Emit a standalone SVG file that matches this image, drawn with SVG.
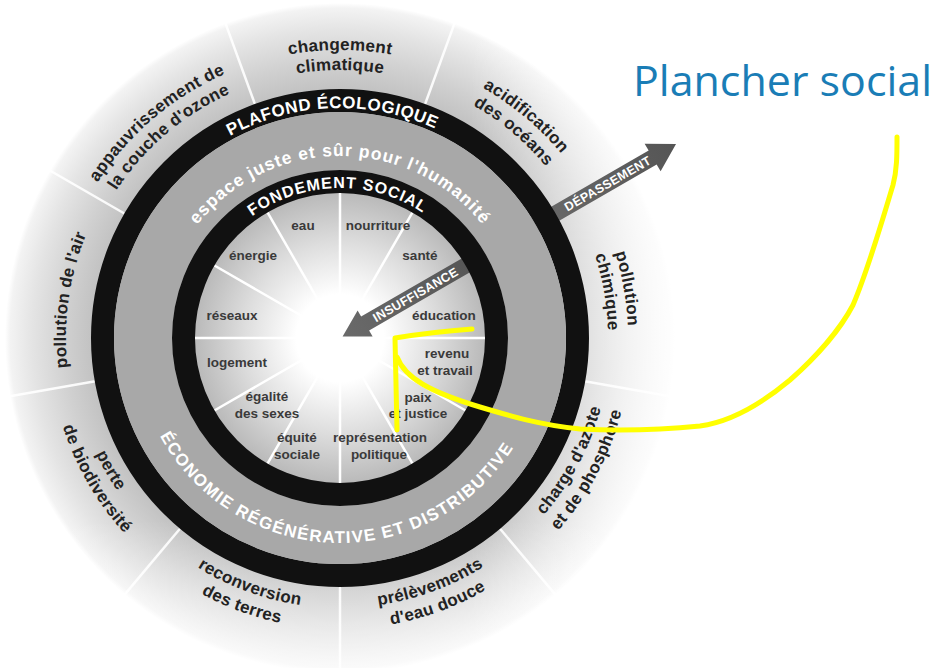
<svg xmlns="http://www.w3.org/2000/svg" xmlns:xlink="http://www.w3.org/1999/xlink" width="939" height="668" viewBox="0 0 939 668">
<defs>
<radialGradient id="outerG" gradientUnits="userSpaceOnUse" cx="340" cy="338" r="335">
<stop offset="0.73" stop-color="#c0c0c0"/>
<stop offset="0.82" stop-color="#d0d0d0"/>
<stop offset="0.92" stop-color="#e4e4e4"/>
<stop offset="0.985" stop-color="#f3f3f3"/>
<stop offset="1" stop-color="#ffffff"/>
</radialGradient>
<linearGradient id="fadeR" gradientUnits="userSpaceOnUse" x1="470" y1="0" x2="690" y2="0">
<stop offset="0" stop-color="#fff" stop-opacity="0"/>
<stop offset="1" stop-color="#fff" stop-opacity="0.95"/>
</linearGradient>
<linearGradient id="fadeB" gradientUnits="userSpaceOnUse" x1="0" y1="520" x2="0" y2="668">
<stop offset="0" stop-color="#fff" stop-opacity="0"/>
<stop offset="1" stop-color="#fff" stop-opacity="0.6"/>
</linearGradient>
<radialGradient id="innerG" gradientUnits="userSpaceOnUse" cx="340" cy="338" r="146">
<stop offset="0" stop-color="#ffffff"/>
<stop offset="0.3" stop-color="#ffffff"/>
<stop offset="0.65" stop-color="#dedede"/>
<stop offset="1" stop-color="#b9b9b9"/>
</radialGradient>
<linearGradient id="arrG" x1="0" y1="0" x2="1" y2="0">
<stop offset="0" stop-color="#6a6a6a"/>
<stop offset="1" stop-color="#555555"/>
</linearGradient>
<path id="cw288" d="M340,626 A288,288 0 1 1 340,50 A288,288 0 1 1 340,626"/>
<path id="cw268" d="M340,606 A268,268 0 1 1 340,70 A268,268 0 1 1 340,606"/>
<path id="cw274" d="M340,612 A274,274 0 1 1 340,64 A274,274 0 1 1 340,612"/>
<path id="cw230" d="M340,568 A230,230 0 1 1 340,108 A230,230 0 1 1 340,568"/>
<path id="cw150" d="M340,488 A150,150 0 1 1 340,188 A150,150 0 1 1 340,488"/>
<path id="cw182" d="M340,520 A182,182 0 1 1 340,156 A182,182 0 1 1 340,520"/>
<path id="ccw270" d="M340,68 A270,270 0 1 0 340,608 A270,270 0 1 0 340,68"/>
<path id="ccw291" d="M340,47 A291,291 0 1 0 340,629 A291,291 0 1 0 340,47"/>
<path id="ccw205" d="M340,133 A205,205 0 1 0 340,543 A205,205 0 1 0 340,133"/>
<style>
.olab{font-family:"Liberation Sans",Arial,sans-serif;font-weight:bold;font-size:17px;fill:#222;letter-spacing:0.3px}
.ilab{font-family:"Liberation Sans",Arial,sans-serif;font-weight:bold;font-size:13.5px;fill:#3a3a3a;text-anchor:middle}
.ring{font-family:"Liberation Sans",Arial,sans-serif;font-weight:bold;fill:#fff}
.div{stroke:#fff;stroke-width:2.5;stroke-linecap:round}
.arrtxt{font-family:"Liberation Sans",Arial,sans-serif;font-weight:bold;font-size:12.5px;fill:#fff;text-anchor:middle;letter-spacing:0.3px}
</style>
</defs>
<rect width="939" height="668" fill="#fff"/>
<g id="outer-zone">
<circle cx="340" cy="338" r="335" fill="url(#outerG)"/>
<g class="div" stroke-opacity="0.9">
<line x1="425.5" y1="103" x2="454.6" y2="23.1"/>
<line x1="556.5" y1="213" x2="630.1" y2="170.5"/>
<line x1="586.2" y1="381.5" x2="670" y2="396.3"/>
<line x1="500.7" y1="529.5" x2="555.4" y2="594.6"/>
<line x1="340" y1="588" x2="340" y2="668"/>
<line x1="179.3" y1="529.5" x2="124.6" y2="594.6"/>
<line x1="93.8" y1="381.5" x2="10" y2="396.3"/>
<line x1="123.5" y1="213" x2="49.9" y2="170.5"/>
<line x1="254.5" y1="103" x2="225.4" y2="23.1"/>
</g>
<rect x="460" y="0" width="240" height="668" fill="url(#fadeR)"/>
<rect x="0" y="520" width="700" height="148" fill="url(#fadeB)"/>
</g>
<g id="connectors">
<g id="arrow-depassement" transform="translate(340,338) rotate(-30)">
<polygon points="225,-8 361,-8 361,-16 388,0 361,16 361,8 225,8" fill="url(#arrG)"/>
<text class="arrtxt" x="309" y="4.5">DÉPASSEMENT</text>
</g>
</g>
<g id="plafond-ecologique">
<circle cx="340" cy="338" r="237.5" fill="none" stroke="#111" stroke-width="23"/>
</g>
<g id="espace-juste">
<circle cx="340" cy="338" r="197" fill="none" stroke="#a8a8a8" stroke-width="58"/>
</g>
<g id="inner-zone">
<circle cx="340" cy="338" r="146" fill="url(#innerG)"/>
<g class="div">
<line x1="340" y1="193" x2="340" y2="483"/>
<line x1="412.5" y1="212.4" x2="267.5" y2="463.6"/>
<line x1="465.6" y1="265.5" x2="214.4" y2="410.5"/>
<line x1="485" y1="338" x2="195" y2="338"/>
<line x1="465.6" y1="410.5" x2="214.4" y2="265.5"/>
<line x1="412.5" y1="463.6" x2="267.5" y2="212.4"/>
</g>
<circle cx="340" cy="338" r="40" fill="#fff" opacity="0.7"/>
</g>
<g id="arrow-insuffisance" transform="translate(340,338) rotate(-30)">
<polygon points="3,0 29,-15 29,-8 158,-8 158,8 29,8 29,15" fill="url(#arrG)"/>
<text class="arrtxt" x="87" y="4.5">INSUFFISANCE</text>
</g>
<g id="fondement-social">
<circle cx="340" cy="338" r="156.5" fill="none" stroke="#111" stroke-width="23"/>
</g>
<g id="ring-labels">
<text class="ring" font-size="17" letter-spacing="0.6"><textPath href="#cw230" startOffset="49.44%" text-anchor="middle">PLAFOND ÉCOLOGIQUE</textPath></text>
<text class="ring" font-size="16" letter-spacing="1"><textPath href="#cw150" startOffset="49.72%" text-anchor="middle">FONDEMENT SOCIAL</textPath></text>
<text class="ring" font-size="17.5" letter-spacing="1" fill="#f4f4f4"><textPath href="#cw182" startOffset="50%" text-anchor="middle">espace juste et sûr pour l'humanité</textPath></text>
<text class="ring" font-size="17" letter-spacing="1.3" fill="#f4f4f4"><textPath href="#ccw205" startOffset="49.51%" text-anchor="middle">ÉCONOMIE RÉGÉNÉRATIVE ET DISTRIBUTIVE</textPath></text>
</g>
<g id="boundary-changement">
<text class="olab"><textPath href="#cw288" startOffset="50%" text-anchor="middle">changement</textPath></text>
<text class="olab"><textPath href="#cw268" startOffset="50%" text-anchor="middle">climatique</textPath></text>
</g>
<g id="boundary-acidification">
<text class="olab"><textPath href="#cw288" startOffset="61.11%" text-anchor="middle">acidification</textPath></text>
<text class="olab"><textPath href="#cw268" startOffset="61.11%" text-anchor="middle">des océans</textPath></text>
</g>
<g id="boundary-pollution-chimique">
<text class="olab"><textPath href="#cw288" startOffset="72.28%" text-anchor="middle">pollution</textPath></text>
<text class="olab"><textPath href="#cw268" startOffset="72.28%" text-anchor="middle">chimique</textPath></text>
</g>
<g id="boundary-azote">
<text class="olab"><textPath href="#ccw270" startOffset="67.22%" text-anchor="middle">charge d'azote</textPath></text>
<text class="olab"><textPath href="#ccw291" startOffset="67.22%" text-anchor="middle">et de phosphore</textPath></text>
</g>
<g id="boundary-eau-douce">
<text class="olab"><textPath href="#ccw270" startOffset="55.6%" text-anchor="middle">prélèvements</textPath></text>
<text class="olab"><textPath href="#ccw291" startOffset="55.6%" text-anchor="middle">d'eau douce</textPath></text>
</g>
<g id="boundary-terres">
<text class="olab"><textPath href="#ccw270" startOffset="44.4%" text-anchor="middle">reconversion</textPath></text>
<text class="olab"><textPath href="#ccw291" startOffset="44.4%" text-anchor="middle">des terres</textPath></text>
</g>
<g id="boundary-biodiversite">
<text class="olab"><textPath href="#ccw270" startOffset="33.33%" text-anchor="middle">perte</textPath></text>
<text class="olab"><textPath href="#ccw291" startOffset="33.33%" text-anchor="middle">de biodiversité</textPath></text>
</g>
<g id="boundary-air">
<text class="olab"><textPath href="#cw274" startOffset="27.22%" text-anchor="middle">pollution de l'air</textPath></text>
</g>
<g id="boundary-ozone">
<text class="olab"><textPath href="#cw288" startOffset="38.78%" text-anchor="middle">appauvrissement de</textPath></text>
<text class="olab"><textPath href="#cw268" startOffset="38.78%" text-anchor="middle">la couche d'ozone</textPath></text>
</g>
<g id="social-labels">
<text class="ilab" x="303" y="230">eau</text>
<text class="ilab" x="378" y="230">nourriture</text>
<text class="ilab" x="253" y="260">énergie</text>
<text class="ilab" x="420" y="260">santé</text>
<text class="ilab" x="232" y="320">réseaux</text>
<text class="ilab" x="444" y="320">éducation</text>
<text class="ilab" x="237" y="367">logement</text>
<text class="ilab" x="447" y="358">revenu</text>
<text class="ilab" x="445" y="375">et travail</text>
<text class="ilab" x="267" y="401">égalité</text>
<text class="ilab" x="267" y="418">des sexes</text>
<text class="ilab" x="418" y="402">paix</text>
<text class="ilab" x="418" y="418">et justice</text>
<text class="ilab" x="297" y="442">équité</text>
<text class="ilab" x="297" y="459">sociale</text>
<text class="ilab" x="380" y="442">représentation</text>
<text class="ilab" x="379" y="459">politique</text>
</g>
<g id="annotation">
<path d="M472,329 Q432,332 395,338 L397,430 M397,357 C405,378 430,392 480,407 C510,416 540,425 580,429 C620,431 660,430 700,426 C730,422 760,405 790,380 C815,358 840,330 853,305 C868,270 880,228 893,185 C897,170 897,155 897,137" fill="none" stroke="#ffff00" stroke-width="5" stroke-linecap="round" stroke-linejoin="round"/>
<text x="633" y="96" font-family="'Open Sans','Noto Sans',sans-serif" font-size="42" fill="#1a7db6" textLength="299" lengthAdjust="spacingAndGlyphs">Plancher social</text>
</g>
</svg>
